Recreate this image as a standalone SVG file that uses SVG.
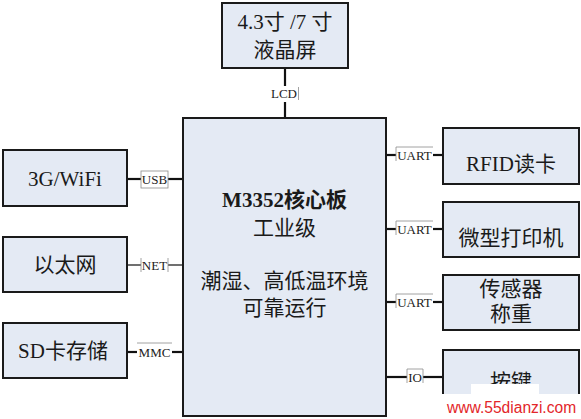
<svg xmlns="http://www.w3.org/2000/svg" width="581" height="419" viewBox="0 0 581 419">
<style>
.box{fill:#E4EAF4;stroke:#1a1a1a;stroke-width:2}
.t{font-family:"Liberation Serif","Noto Sans CJK SC",serif;font-size:21px;fill:#1a1a1a;text-anchor:middle}
.b{font-weight:bold}
.w{stroke:#111;stroke-width:2.2;fill:none}
.thin{stroke:#111;stroke-width:1.2;fill:none}
.lb{font-family:"Liberation Serif",serif;font-size:13px;fill:#222;text-anchor:middle}
.lbl{stroke:#8a8a8a;stroke-width:0.8;fill:none}
.wm{font-family:"Liberation Sans",Arial,sans-serif;font-size:15.6px;fill:#E3262A}
</style>
<rect width="581" height="419" fill="#fff"/>
<g id="connectors">
<line class="w" x1="285" y1="68" x2="285" y2="86"/>
<line class="w" x1="285" y1="102" x2="285" y2="118"/>
<line class="w" x1="127" y1="179" x2="141" y2="179"/>
<line class="w" x1="168" y1="179" x2="183" y2="179"/>
<line class="thin" x1="127" y1="265" x2="141" y2="265"/>
<line class="thin" x1="168" y1="265" x2="183" y2="265"/>
<line class="w" x1="127" y1="352" x2="137" y2="352"/>
<line class="w" x1="172" y1="352" x2="183" y2="352"/>
<line class="w" x1="386" y1="155" x2="396" y2="155"/>
<line class="w" x1="433" y1="155" x2="443" y2="155"/>
<line class="w" x1="386" y1="229" x2="396" y2="229"/>
<line class="w" x1="433" y1="229" x2="443" y2="229"/>
<line class="w" x1="386" y1="302" x2="396" y2="302"/>
<line class="w" x1="433" y1="302" x2="443" y2="302"/>
<line class="w" x1="386" y1="377" x2="407" y2="377"/>
<line class="w" x1="423" y1="377" x2="443" y2="377"/>
<g id="labels">
<text class="lb" x="284" y="98">LCD</text>
<line class="lbl" x1="298.5" y1="87" x2="298.5" y2="100"/>
<rect class="lbl" x="141" y="171" width="27" height="17" fill="#fff"/>
<text class="lb" x="154.5" y="184">USB</text>
<line class="lbl" x1="141" y1="258" x2="141" y2="272"/>
<line class="lbl" x1="168" y1="258" x2="168" y2="272"/>
<text class="lb" x="154.5" y="270">NET</text>
<line class="lbl" x1="137" y1="343" x2="172" y2="343"/>
<text class="lb" x="154.5" y="356.5">MMC</text>
<line class="lbl" x1="396" y1="147" x2="433" y2="147"/>
<line class="lbl" x1="396" y1="147" x2="396" y2="161"/>
<text class="lb" x="414.5" y="160">UART</text>
<line class="lbl" x1="396" y1="221" x2="433" y2="221"/>
<line class="lbl" x1="396" y1="221" x2="396" y2="235"/>
<text class="lb" x="414.5" y="234">UART</text>
<line class="lbl" x1="396" y1="294" x2="433" y2="294"/>
<line class="lbl" x1="396" y1="294" x2="396" y2="308"/>
<text class="lb" x="414.5" y="307">UART</text>
<polyline class="lbl" points="407,383 407,369 423,369 423,383"/>
<text class="lb" x="415" y="382">IO</text>
</g>
</g>
<g id="lcd">
<rect class="box" x="222" y="3" width="126" height="65"/>
<text class="t" x="285" y="29">4.3寸 /7 寸</text>
<text class="t" x="285" y="57">液晶屏</text>
</g>
<g id="core">
<rect class="box" x="183" y="118" width="203" height="298"/>
<text class="t b" x="284.5" y="207">M3352核心板</text>
<text class="t" x="284.5" y="235">工业级</text>
<text class="t" x="284.5" y="288">潮湿、高低温环境</text>
<text class="t" x="284.5" y="315">可靠运行</text>
</g>
<g id="wifi">
<rect class="box" x="3" y="150" width="124" height="56"/>
<text class="t" x="65" y="186">3G/WiFi</text>
</g>
<g id="ethernet">
<rect class="box" x="3" y="237" width="124" height="55"/>
<text class="t" x="65" y="272">以太网</text>
</g>
<g id="sd">
<rect class="box" x="3" y="323" width="124" height="55"/>
<text class="t" x="63" y="358">SD卡存储</text>
</g>
<g id="rfid">
<rect class="box" x="443" y="128" width="136" height="56"/>
<text class="t" x="511" y="171">RFID读卡</text>
</g>
<g id="printer">
<rect class="box" x="443" y="202" width="136" height="55"/>
<text class="t" x="511" y="245">微型打印机</text>
</g>
<g id="sensor">
<rect class="box" x="443" y="275" width="136" height="55"/>
<text class="t" x="511" y="296">传感器</text>
<text class="t" x="511" y="321">称重</text>
</g>
<g id="keys">
<rect class="box" x="443" y="350" width="136" height="55"/>
<text class="t" x="511" y="389">按键</text>
</g>
<g id="watermark">
<rect x="471" y="384" width="68" height="11" fill="#fff"/>
<rect x="441" y="394" width="140" height="25" fill="#fff"/>
<text class="wm" x="447" y="413">www.55dianzi.com</text>
</g>
</svg>
